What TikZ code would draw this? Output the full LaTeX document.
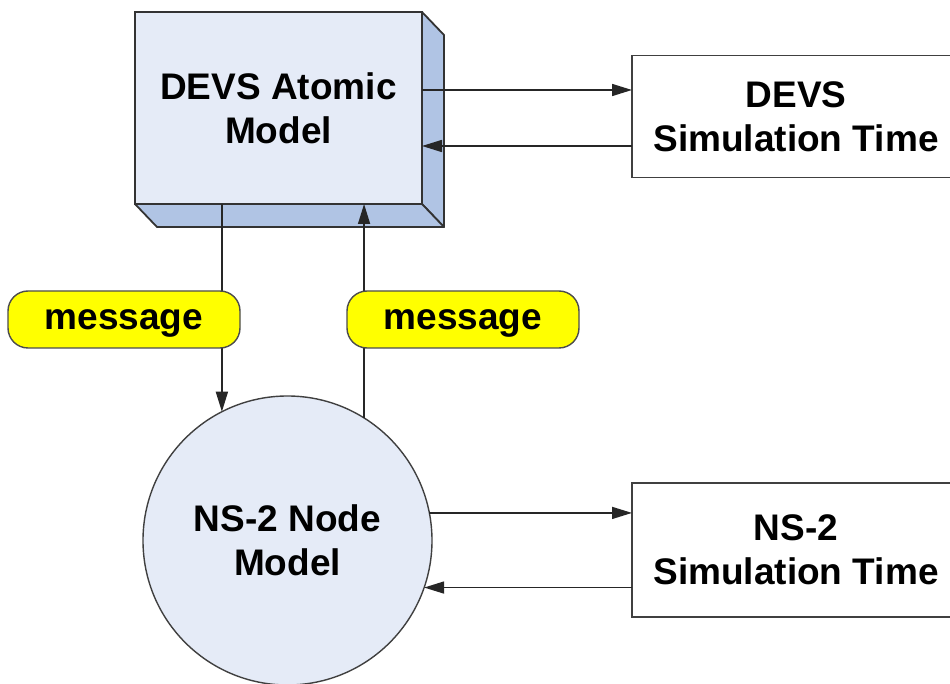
\documentclass[tikz,border=0pt]{standalone}
\usepackage{fontspec}
\setmainfont{Liberation Sans}
\usetikzlibrary{arrows.meta}

\definecolor{boxface}{HTML}{E5EBF7}
\definecolor{boxside}{HTML}{B0C4E4}
\definecolor{msgyellow}{HTML}{FFFF00}

\tikzset{
  bigtext/.style={font=\bfseries\fontsize{18.5}{22}\selectfont, align=center},
  arr/.style={-{Triangle[length=10pt,width=6pt]}, line width=0.8pt, color=black!85},
  modelbox/.style={bigtext, draw=black!80, line width=0.9pt, fill=boxface, outer sep=0pt,
    minimum width=143.5pt, minimum height=96pt},
  simbox/.style={bigtext, draw=black!75, line width=0.9pt, fill=white, outer sep=0pt,
    minimum width=164pt, minimum height=61pt},
  nodecircle/.style={bigtext, circle, draw=black!75, line width=0.7pt, fill=boxface,
    outer sep=0pt, minimum size=144.5pt, inner sep=0pt},
  msgbox/.style={font=\bfseries\fontsize{18.5}{22}\selectfont, draw=black!70, line width=0.7pt,
    fill=msgyellow, rounded corners=10pt, text height=13pt, text depth=3pt,
    minimum width=116pt, minimum height=28.5pt}
}

\begin{document}
\begin{tikzpicture}[x=0.5pt,y=-0.5pt]
\useasboundingbox (0,0) rectangle (950,684);

\node [modelbox] (devs) at (278.5,108) {DEVS Atomic\\Model};
\filldraw [fill=boxside, draw=black!80, line width=0.9pt, line join=round]
(devs.north east) -- ++(22,23) -- ([shift={(22,23)}]devs.south east) -- (devs.south east) -- cycle;
\filldraw [fill=boxside, draw=black!80, line width=0.9pt, line join=round]
(devs.south west) -- ++(22,23) -- ([shift={(22,23)}]devs.south east) -- (devs.south east) -- cycle;

\node [simbox] (devssim) at (796,116.5) {DEVS\\Simulation Time};
\node [simbox, minimum height=67pt] (nssim) at (796,550) {NS-2\\Simulation Time};
\node [nodecircle] (ns) at (287.5,540.5) {NS-2 Node\\Model};

\coordinate (devsout) at ([yshift=9pt]devs.east);
\coordinate (devsin) at ([yshift=-19pt]devs.east);
\draw [arr] (devsout) -- (devsout -| devssim.west);
\draw [arr] (devsin -| devssim.west) -- (devsin);

\draw [arr] (devs.south -| ns.117) -- (ns.117);
\draw [arr] (ns.58) -- (devs.south -| ns.58);

\draw [arr] (ns.11) -- (ns.11 -| nssim.west);
\draw [arr] (nssim.west |- ns.-19) -- (ns.-19);

\node [msgbox] (msgdown) at (124,319.5) {message};
\node [msgbox] (msgup) at (463,319.5) {message};

\end{tikzpicture}
\end{document}
